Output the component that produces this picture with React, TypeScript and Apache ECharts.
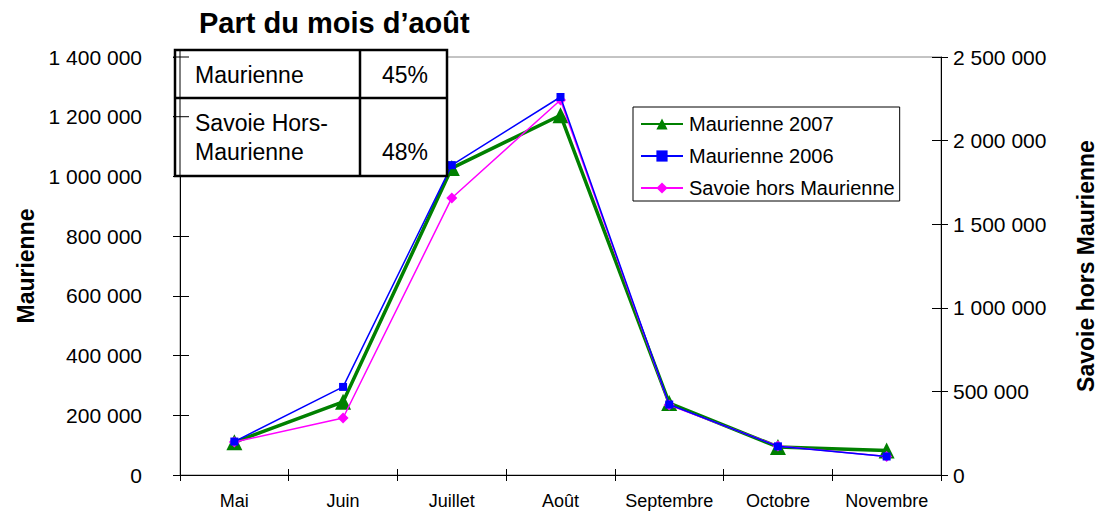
import React, { useEffect, useRef } from "react";
import * as echarts from "echarts";

const categories = ["Mai", "Juin", "Juillet", "Août", "Septembre", "Octobre", "Novembre"];
const maurienne2007 = [110000, 245000, 1028000, 1205000, 241000, 94000, 82000];
const maurienne2006 = [112000, 295000, 1038000, 1266000, 236000, 96000, 62000];
const savoieHorsMaurienne = [197000, 341000, 1657000, 2243000, 419000, 173000, 110000];
const leftTicks = { min: 0, max: 1400000, interval: 200000 };
const rightTicks = { min: 0, max: 2500000, interval: 500000 };
const tableRows = [
  { label: ["Maurienne"], value: "45%" },
  { label: ["Savoie Hors-", "Maurienne"], value: "48%" },
];

const FONT = "Liberation Sans, Arial, sans-serif";
const fmt = (v: number) => String(v).replace(/\B(?=(\d{3})+(?!\d))/g, " ");

export default function App() {
  const ref = useRef<HTMLDivElement>(null);
  useEffect(() => {
    if (!ref.current) return;
    const chart = echarts.init(ref.current, null, { renderer: "svg" });
    const axisLine = { show: true, lineStyle: { color: "#000", width: 1 } };
    const tableX = 175, tableY = 50, colX = 360, rowY = 98, tableR = 447, tableB = 176;
    const tf = `23px ${FONT}`;
    chart.setOption({
      animation: false,
      backgroundColor: "#fff",
      textStyle: { fontFamily: FONT },
      title: {
        text: "Part du mois d’août",
        left: 194,
        top: 3,
        textStyle: { fontFamily: FONT, fontSize: 29, fontWeight: "bold", color: "#000" },
      },
      grid: {
        left: 180, right: 157, top: 57, bottom: 36,
        outerBoundsMode: "none",
        containLabel: false,
        show: true, borderColor: "#888", borderWidth: 1,
      },
      legend: {
        orient: "vertical",
        left: 633, top: 107,
        padding: [7, 5, 3, 7],
        itemGap: 12,
        itemWidth: 42, itemHeight: 14,
        borderColor: "#000", borderWidth: 1,
        backgroundColor: "#fff",
        textStyle: { fontFamily: FONT, fontSize: 20, color: "#000", padding: [0, 0, 0, 1] },
        data: ["Maurienne 2007", "Maurienne 2006", "Savoie hors Maurienne"],
      },
      xAxis: [
        {
          type: "category", data: categories, boundaryGap: true, position: "bottom",
          axisLine, axisTick: { show: true, length: 6, lineStyle: { color: "#000" } },
          axisLabel: { fontFamily: FONT, fontSize: 18, color: "#000", margin: 17, interval: 0, hideOverlap: false },
        },
        {
          type: "category", data: categories, boundaryGap: true, position: "bottom",
          axisLine: { show: false }, axisTick: { show: true, inside: true, length: 6, lineStyle: { color: "#000" } },
          axisLabel: { show: false },
        },
      ],
      yAxis: [
        {
          type: "value", position: "left", ...leftTicks,
          name: "Maurienne", nameLocation: "middle", nameGap: 143, nameRotate: 90,
          nameTextStyle: { fontFamily: FONT, fontSize: 23, fontWeight: "bold", color: "#000" },
          axisLine, axisTick: { show: true, length: 7, lineStyle: { color: "#000" } },
          splitLine: { show: false },
          axisLabel: { fontFamily: FONT, fontSize: 21, color: "#000", margin: 38, formatter: fmt },
        },
        {
          type: "value", position: "right", ...rightTicks,
          name: "Savoie hors Maurienne", nameLocation: "middle", nameGap: 133, nameRotate: 90,
          nameTextStyle: { fontFamily: FONT, fontSize: 23, fontWeight: "bold", color: "#000" },
          axisLine, axisTick: { show: true, length: 7, lineStyle: { color: "#000" } },
          splitLine: { show: false },
          axisLabel: { fontFamily: FONT, fontSize: 21, color: "#000", margin: 12, formatter: fmt },
        },
        {
          type: "value", position: "left", ...leftTicks,
          axisLine: { show: false }, axisTick: { show: true, inside: true, length: 9, lineStyle: { color: "#000" } },
          axisLabel: { show: false }, splitLine: { show: false },
        },
        {
          type: "value", position: "right", ...rightTicks,
          axisLine: { show: false }, axisTick: { show: true, inside: true, length: 9, lineStyle: { color: "#000" } },
          axisLabel: { show: false }, splitLine: { show: false },
        },
      ],
      series: [
        {
          name: "Savoie hors Maurienne", type: "line", yAxisIndex: 1, data: savoieHorsMaurienne,
          symbol: "diamond", symbolSize: 11, z: 3,
          lineStyle: { color: "#ff00ff", width: 1.5 }, itemStyle: { color: "#ff00ff" },
        },
        {
          name: "Maurienne 2006", type: "line", yAxisIndex: 0, data: maurienne2006,
          symbol: "rect", symbolSize: 8, z: 4,
          lineStyle: { color: "#0000ff", width: 1.5 }, itemStyle: { color: "#0000ff" },
        },
        {
          name: "Maurienne 2007", type: "line", yAxisIndex: 0, data: maurienne2007,
          symbol: "triangle", symbolSize: 16, z: 2,
          lineStyle: { color: "#008000", width: 3.5 }, itemStyle: { color: "#008000" },
        },
      ],
    });
    const y14 = chart.convertToPixel({ yAxisIndex: 0 }, 1400000);
    const y12 = chart.convertToPixel({ yAxisIndex: 0 }, 1200000);
    const ax = 180;
    chart.setOption({
      graphic: [
        { type: "rect", shape: { x: tableX, y: tableY, width: tableR - tableX, height: tableB - tableY }, style: { fill: "#fff", stroke: "#000", lineWidth: 2.5 }, z: 100 },
        { type: "line", shape: { x1: colX, y1: tableY, x2: colX, y2: tableB }, style: { stroke: "#000", lineWidth: 2.5 }, z: 101 },
        { type: "line", shape: { x1: tableX, y1: rowY, x2: tableR, y2: rowY }, style: { stroke: "#000", lineWidth: 2.5 }, z: 101 },
        { type: "line", shape: { x1: ax, y1: tableY, x2: ax, y2: tableB }, style: { stroke: "#000", lineWidth: 1 }, z: 101 },
        { type: "line", shape: { x1: ax - 7, y1: y14, x2: ax + 9, y2: y14 }, style: { stroke: "#000", lineWidth: 1 }, z: 101 },
        { type: "line", shape: { x1: ax - 7, y1: y12, x2: ax + 9, y2: y12 }, style: { stroke: "#000", lineWidth: 1 }, z: 101 },
        { type: "text", x: 195, y: 75, style: { text: tableRows[0].label[0], font: tf, fill: "#000", verticalAlign: "middle" }, z: 102 },
        { type: "text", x: 428, y: 75, style: { text: tableRows[0].value, font: tf, fill: "#000", align: "right", verticalAlign: "middle" }, z: 102 },
        { type: "text", x: 195, y: 123, style: { text: tableRows[1].label[0], font: tf, fill: "#000", verticalAlign: "middle" }, z: 102 },
        { type: "text", x: 195, y: 152, style: { text: tableRows[1].label[1], font: tf, fill: "#000", verticalAlign: "middle" }, z: 102 },
        { type: "text", x: 428, y: 152, style: { text: tableRows[1].value, font: tf, fill: "#000", align: "right", verticalAlign: "middle" }, z: 102 },
      ],
    });
    return () => chart.dispose();
  }, []);
  return <div ref={ref} style={{ width: 1098, height: 511, position: "absolute", left: 0, top: 0 }} />;
}
